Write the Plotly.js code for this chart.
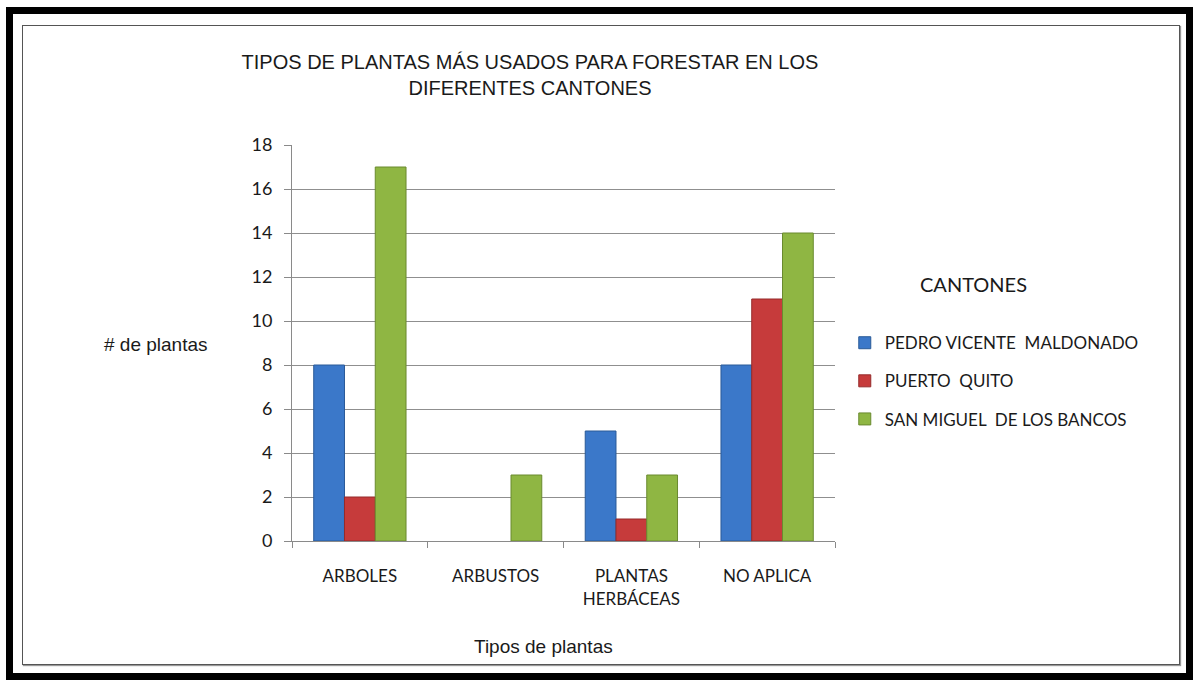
<!DOCTYPE html>
<html>
<head>
<meta charset="utf-8">
<script src="https://cdn.plot.ly/plotly-3.0.1.min.js"></script>
<style>
  html, body { margin:0; padding:0; background:#ffffff; }
  #wrap { position:relative; width:1200px; height:683px; overflow:hidden; background:#ffffff; }
  #chart { position:absolute; left:0; top:0; width:1200px; height:683px; }
  #outer { position:absolute; left:6px; top:7px; width:1173px; height:659px; border:7px solid #000; pointer-events:none; }
  #inner { position:absolute; left:22px; top:25px; width:1156px; height:638px; border:1px solid #555; box-shadow:1px 1px 1px #999; pointer-events:none; }
</style>
</head>
<body>
<div id="wrap">
  <div id="chart"></div>
  <div id="outer"></div>
  <div id="inner"></div>
</div>
<script>
const categories = ["ARBOLES", "ARBUSTOS", "PLANTAS<br>HERBÁCEAS", "NO APLICA"];
const seriesNames = ["PEDRO VICENTE  MALDONADO", "PUERTO  QUITO", "SAN MIGUEL  DE LOS BANCOS"];
const pedroVicente = [8, 0, 5, 8];
const puertoQuito = [2, 0, 1, 11];
const sanMiguel = [17, 3, 3, 14];
const yTicks = [0, 2, 4, 6, 8, 10, 12, 14, 16, 18];

const colors = ["#3b78c9", "#c63b3b", "#8fb643"];
const lineColors = ["#2a5a98", "#952b2b", "#6a8a2f"];
const values = [pedroVicente, puertoQuito, sanMiguel];

const labelFont = "Lato, 'Open Sans', sans-serif";
const arial = "'Liberation Sans', Arial, sans-serif";
const ink = "#1a1a1a";

const traces = values.map((v, i) => ({
  type: "bar",
  name: seriesNames[i],
  x: categories,
  y: v,
  legendgroup: "g" + i,
  marker: { color: colors[i], line: { color: lineColors[i], width: v.map(d => d === 0 ? 0 : 1) } },
  hoverinfo: "x+y+name"
}));

const layout = {
  width: 1200,
  height: 683,
  paper_bgcolor: "rgba(0,0,0,0)",
  plot_bgcolor: "rgba(0,0,0,0)",
  margin: { l: 292, r: 365, t: 145, b: 142, pad: 0 },
  barmode: "group",
  bargap: 0.32,
  bargroupgap: 0,
  title: {
    text: "TIPOS DE PLANTAS MÁS USADOS PARA FORESTAR EN LOS<br>DIFERENTES CANTONES",
    font: { family: arial, size: 20, color: ink },
    x: 530/1200, xref: "container", xanchor: "center",
    y: 1 - 69/683, yref: "container", yanchor: "middle"
  },
  xaxis: {
    type: "category",
    showline: true, linecolor: "#8a8a8a", linewidth: 1,
    ticks: "outside", tickson: "boundaries", ticklen: 6, tickcolor: "#8a8a8a",
    tickfont: { family: labelFont, size: 17, color: ink },
    ticklabelstandoff: 20,
    showgrid: false, zeroline: false
  },
  yaxis: {
    range: [0, 18],
    tickvals: yTicks,
    showline: true, linecolor: "#8a8a8a", linewidth: 1,
    ticks: "outside", ticklen: 7, tickcolor: "#8a8a8a",
    tickfont: { family: labelFont, size: 18, color: ink },
    ticklabelstandoff: 8,
    showgrid: true, gridcolor: "#8f8f8f", gridwidth: 1,
    zeroline: false
  },
  legend: {
    x: 1.018, xanchor: "left",
    y: 0.545, yanchor: "top",
    traceorder: "grouped",
    tracegroupgap: 13,
    font: { family: labelFont, size: 17, color: ink },
    bgcolor: "rgba(0,0,0,0)"
  },
  annotations: [
    { text: "CANTONES", xref: "paper", yref: "paper", x: (973-292)/543, y: (541-284)/396,
      xanchor: "center", yanchor: "middle", showarrow: false,
      font: { family: labelFont, size: 20, color: ink } },
    { text: "# de plantas", xref: "paper", yref: "paper", x: (156-292)/543, y: (541-344)/396,
      xanchor: "center", yanchor: "middle", showarrow: false,
      font: { family: arial, size: 19, color: ink } },
    { text: "Tipos de plantas", xref: "paper", yref: "paper", x: (543-292)/543, y: (541-646)/396,
      xanchor: "center", yanchor: "middle", showarrow: false,
      font: { family: arial, size: 19, color: ink } }
  ],
  showlegend: true
};

Plotly.newPlot("chart", traces, layout, { displayModeBar: false });
</script>
</body>
</html>
